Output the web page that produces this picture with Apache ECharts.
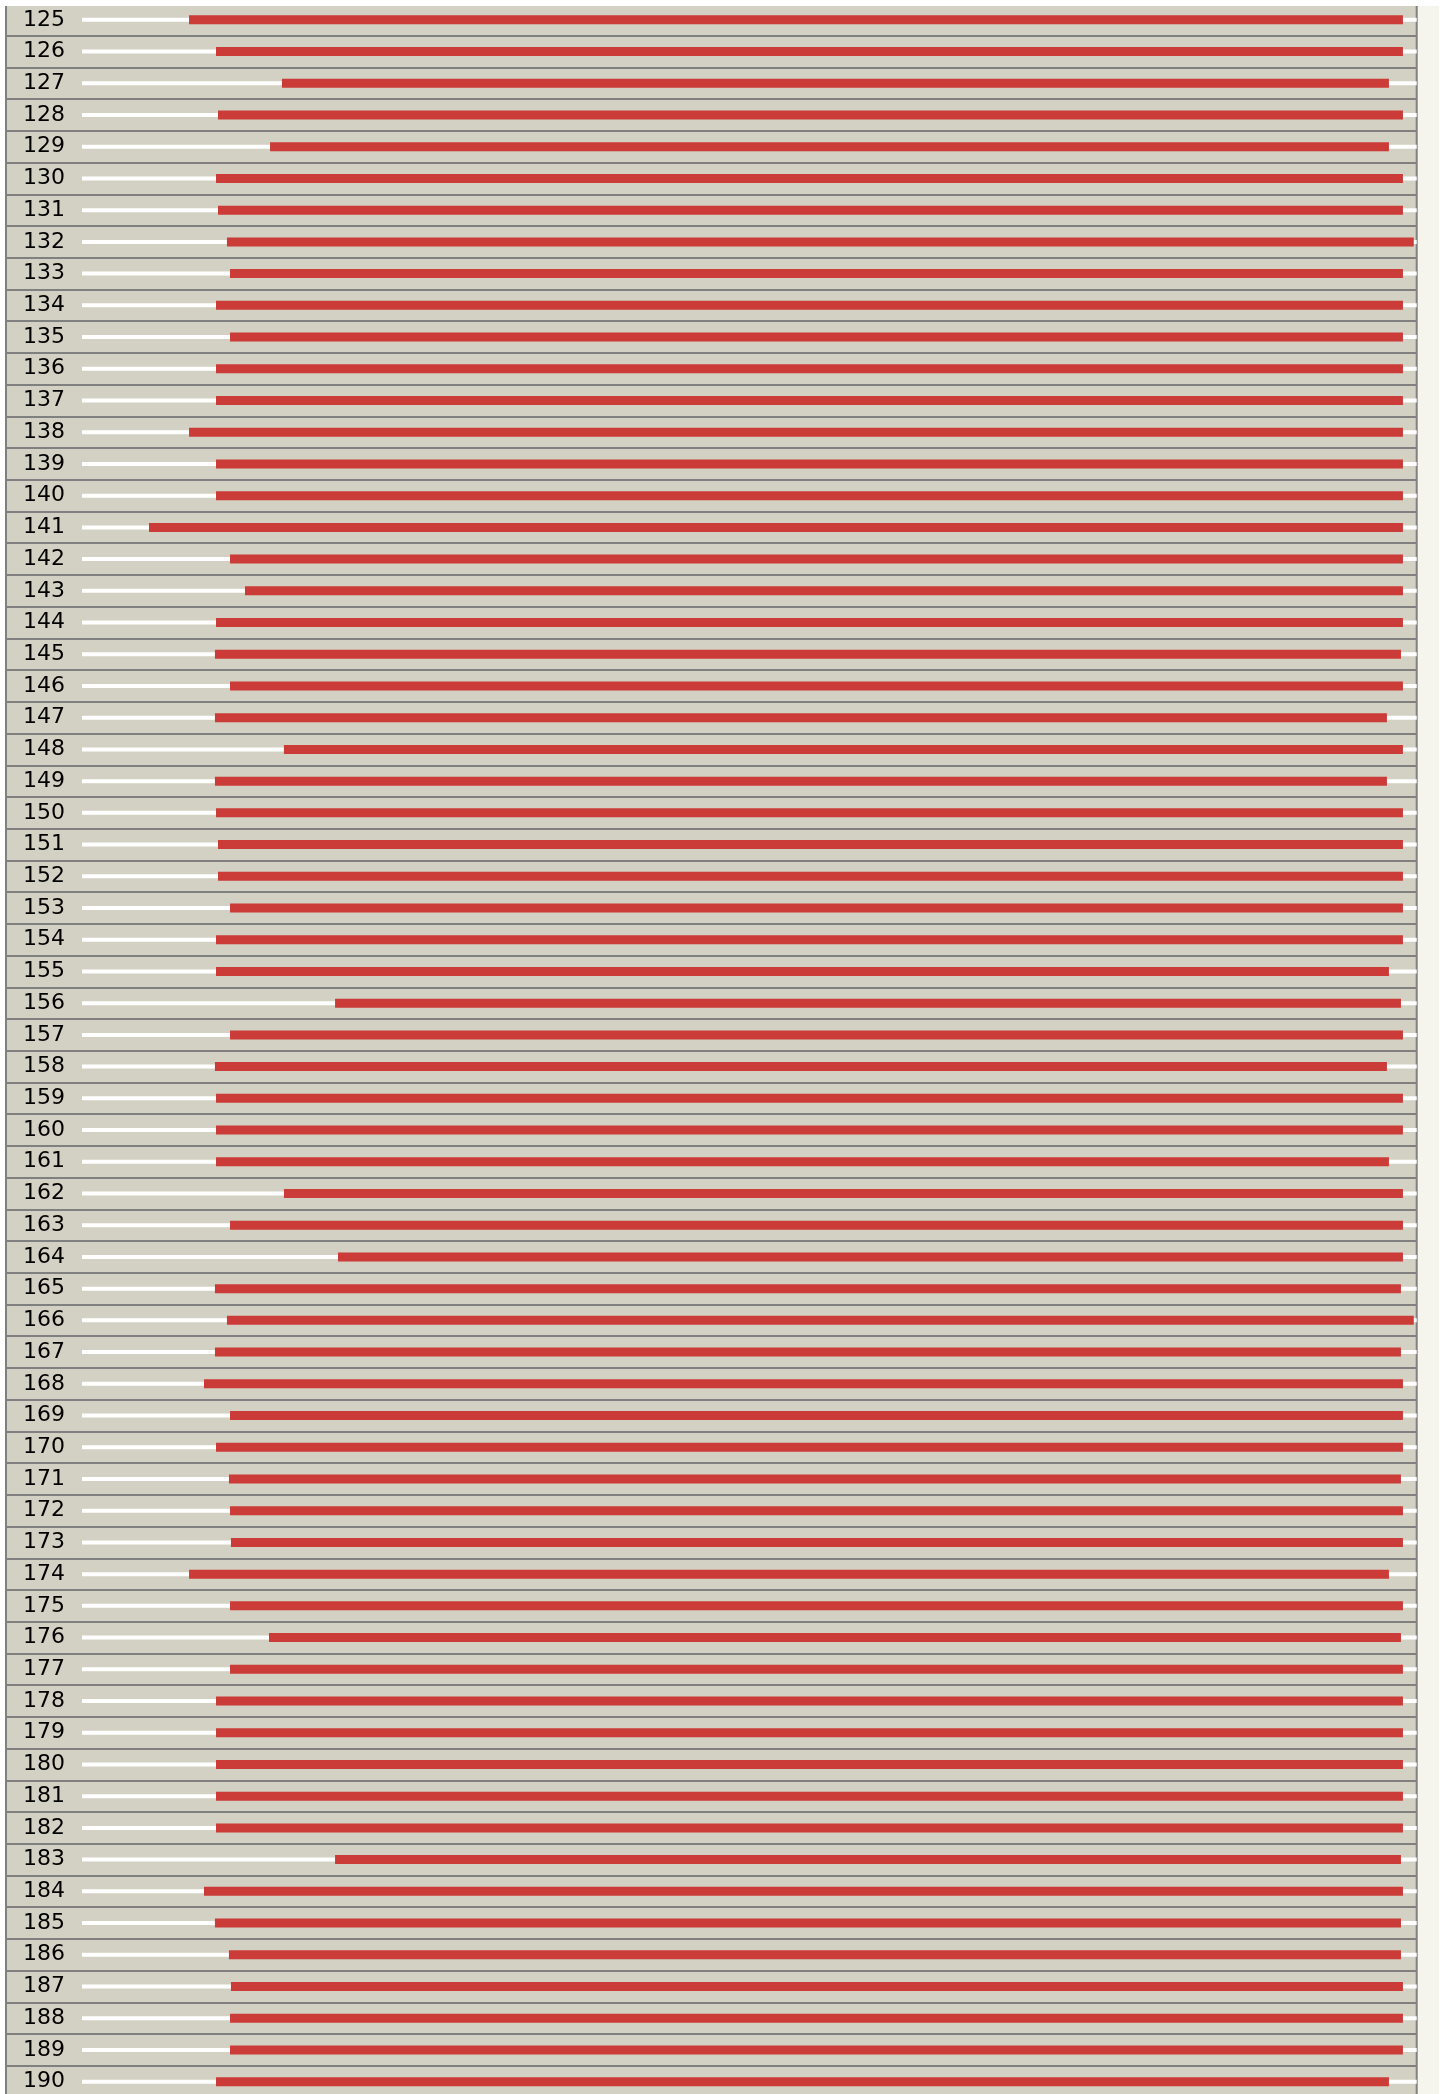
<!DOCTYPE html>
<html>
<head>
<meta charset="utf-8">
<script src="https://cdn.jsdelivr.net/npm/echarts@6/dist/echarts.min.js"></script>
<style>
  html, body { margin: 0; padding: 0; background: #ffffff; }
  #wrap { position: absolute; left: 0; top: 6px; width: 1444px; height: 2088px; overflow: hidden; }
  #cream { position: absolute; left: 6px; top: 0; width: 1433px; height: 100%; background: #f5f5ee; }
  #chart { position: absolute; left: 0; top: -2px; width: 1444px; height: 2100px; }
</style>
</head>
<body>
<div id="wrap"><div id="cream"></div><div id="chart"></div></div>
<script>
const rowLabels = [];
for (let n = 125; n <= 190; n++) rowLabels.push(String(n));

const trackEnd = 100;

const rangeStart = [
  8.02, 10.04, 14.98, 10.19, 14.09, 10.04, 10.19, 10.86, 11.09, 10.04,
  11.09, 10.04, 10.04, 8.02, 10.04, 10.04, 5.02, 11.09, 12.21, 10.04,
  9.96, 11.09, 9.96, 15.13, 9.96, 10.04, 10.19, 10.19, 11.09, 10.04,
  10.04, 18.96, 11.09, 9.96, 10.04, 10.04, 10.04, 15.13, 11.09, 19.18,
  9.96, 10.86, 9.96, 9.14, 11.09, 10.04, 11.01, 11.09, 11.16, 8.02,
  11.09, 14.01, 11.09, 10.04, 10.04, 10.04, 10.04, 10.04, 18.96, 9.14,
  9.96, 11.01, 11.16, 11.09, 11.09, 10.04
];

const rangeEnd = [
  98.97, 98.97, 97.92, 98.97, 97.92, 98.97, 98.97, 99.78, 98.97, 98.97,
  98.97, 98.97, 98.97, 98.97, 98.97, 98.97, 98.97, 98.97, 98.97, 98.97,
  98.82, 98.97, 97.77, 98.97, 97.77, 98.97, 98.97, 98.97, 98.97, 98.97,
  97.92, 98.82, 98.97, 97.77, 98.97, 98.97, 97.92, 98.97, 98.97, 98.97,
  98.82, 99.78, 98.82, 98.97, 98.97, 98.97, 98.82, 98.97, 98.97, 97.92,
  98.97, 98.82, 98.97, 98.97, 98.97, 98.97, 98.97, 98.97, 98.82, 98.97,
  98.82, 98.82, 98.97, 98.97, 98.97, 97.92
];

const trackData = rowLabels.map(() => trackEnd);
const baseData = rangeStart.slice();
const spanData = rangeEnd.map((e, i) => +(e - rangeStart[i]).toFixed(2));

const chart = echarts.init(document.getElementById('chart'), null, { renderer: 'canvas' });
chart.setOption({
  animation: false,
  backgroundColor: 'transparent',
  grid: {
    show: true,
    left: 6,
    right: 27.3,
    top: 0,
    height: 2093.5,
    backgroundColor: '#d3d1c3',
    borderColor: '#808080',
    borderWidth: 2
  },
  xAxis: {
    type: 'value',
    min: -5.694,
    max: 100,
    show: false
  },
  yAxis: [
    {
      type: 'category',
      data: rowLabels,
      inverse: true,
      axisLine: { show: false },
      axisTick: { show: false },
      axisLabel: {
        inside: true,
        margin: 17,
        color: '#000000',
        fontFamily: 'DejaVu Sans',
        fontSize: 22
      },
      splitLine: { show: true, lineStyle: { color: '#808080', width: 2 } }
    },
    {
      type: 'category',
      data: rowLabels,
      inverse: true,
      show: false
    }
  ],
  series: [
    {
      name: 'track',
      type: 'bar',
      yAxisIndex: 1,
      data: trackData,
      barWidth: 4,
      itemStyle: { color: '#ffffff' },
      silent: true
    },
    {
      name: 'base',
      type: 'bar',
      yAxisIndex: 0,
      stack: 'range',
      data: baseData,
      barWidth: 9,
      itemStyle: { color: 'rgba(0,0,0,0)' },
      silent: true
    },
    {
      name: 'range',
      type: 'bar',
      yAxisIndex: 0,
      stack: 'range',
      data: spanData,
      barWidth: 9,
      itemStyle: { color: '#cb3b37' }
    }
  ]
});
</script>
</body>
</html>
